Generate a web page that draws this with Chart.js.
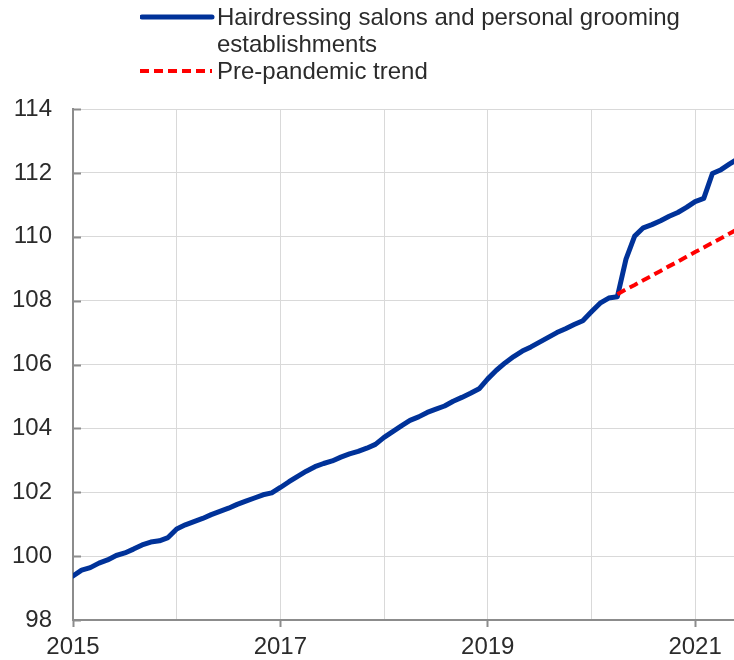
<!DOCTYPE html>
<html lang="en">
  <head>
    <meta charset="UTF-8" />
    <script src="https://cdn.jsdelivr.net/npm/chart.js@4.4.0/dist/chart.umd.min.js"></script>
    <title>Hairdressing prices</title>
    <style>
      body { margin: 0; background: #fff; }
      #wrap { position: relative; width: 734px; height: 660px; font-family: "Liberation Sans", Arial, sans-serif; color: #2b2b2b; }
      #myChart { position: absolute; left: 0; top: 0; }
      .legend { position: absolute; left: 140px; font-size: 24px; line-height: 27px; }
      .legend .txt { position: absolute; left: 77px; top: 0; white-space: nowrap; }
      .legend svg { position: absolute; left: 0; }
    </style>
  </head>
  <body>
  <div id="wrap">
    <canvas id="myChart" width="734" height="660"></canvas>
    <div class="legend" style="top:3px">
      <svg width="76" height="10" style="top:9px"><line x1="2" y1="5" x2="72" y2="5" stroke="#003299" stroke-width="5" stroke-linecap="round"/></svg>
      <div class="txt">Hairdressing salons and personal grooming<br>establishments</div>
    </div>
    <div class="legend" style="top:57px">
      <svg width="76" height="10" style="top:9px"><line x1="0" y1="5" x2="72" y2="5" stroke="#ff0000" stroke-width="4" stroke-dasharray="9 5"/></svg>
      <div class="txt">Pre-pandemic trend</div>
    </div>
  </div>

    <script>
    // monthly index, Jan 2015 .. Jun 2021
    const hairdressing = [
      99.38, 99.56, 99.64, 99.78, 99.88, 100.02, 100.10, 100.22, 100.35, 100.44, 100.48, 100.58,
      100.85, 100.98, 101.08, 101.18, 101.30, 101.40, 101.50, 101.62, 101.72, 101.82, 101.92, 101.98,
      102.15, 102.33, 102.50, 102.66, 102.80, 102.90, 102.98, 103.10, 103.20, 103.28, 103.38, 103.50,
      103.72, 103.90, 104.08, 104.25, 104.36, 104.50, 104.60, 104.70, 104.85, 104.97, 105.10, 105.24,
      105.55, 105.82, 106.05, 106.25, 106.42, 106.55, 106.70, 106.85, 107.00, 107.12, 107.25, 107.37,
      107.65, 107.92, 108.08, 108.12, 109.30, 110.02, 110.28, 110.38, 110.50, 110.64, 110.76, 110.92,
      111.10, 111.20, 111.98, 112.10, 112.28, 112.45
    ];
    // pre-pandemic trend, Apr 2020 .. Jun 2021
    const trendStart = '2020-04';
    const trend = [
      108.20, 108.35, 108.49, 108.64, 108.78, 108.93, 109.08, 109.22, 109.37,
      109.52, 109.66, 109.81, 109.95, 110.10, 110.25
    ];
    const yTicks = [98, 100, 102, 104, 106, 108, 110, 112, 114];
    const yearLabels = ['2015', '2017', '2019', '2021'];

    const months = [];
    for (let y = 2015; y <= 2021; y++) {
      for (let m = 1; m <= 12; m++) {
        months.push(y + '-' + String(m).padStart(2, '0'));
      }
    }
    months.length = hairdressing.length;

    const t0 = months.indexOf(trendStart);
    const axisGrey = '#8c8c8c';

    // short tick marks drawn inside the plot on the y axis
    const innerTicks = {
      id: 'innerTicks',
      beforeDatasetsDraw(chart) {
        const ctx = chart.ctx, y = chart.scales.y, left = chart.chartArea.left;
        ctx.save();
        ctx.strokeStyle = axisGrey;
        ctx.lineWidth = 2;
        yTicks.forEach(v => {
          const py = Math.round(y.getPixelForValue(v)) + 0.5;
          ctx.beginPath();
          ctx.moveTo(left, py);
          ctx.lineTo(left + 8, py);
          ctx.stroke();
        });
        ctx.restore();
      }
    };

    const ctx = document.getElementById('myChart').getContext('2d');
    new Chart(ctx, {
      type: 'line',
      data: {
        datasets: [{
          label: 'Hairdressing salons and personal grooming establishments',
          data: hairdressing.map((v, i) => ({ x: i, y: v })),
          borderColor: '#003299',
          borderWidth: 5,
          borderJoinStyle: 'round',
          borderCapStyle: 'round',
          pointRadius: 0,
          tension: 0,
          order: 2
        }, {
          label: 'Pre-pandemic trend',
          data: trend.map((v, i) => ({ x: t0 + i, y: v })),
          borderColor: '#ff0000',
          borderWidth: 4,
          borderDash: [9, 5],
          pointRadius: 0,
          tension: 0,
          order: 1
        }]
      },
      options: {
        responsive: false,
        animation: false,
        layout: { padding: { top: 109, left: 0, right: 0, bottom: 0 } },
        plugins: { legend: { display: false }, tooltip: { enabled: false } },
        scales: {
          x: {
            type: 'linear',
            min: 0,
            max: 76.5,
            afterFit(s) { s.height = 40; },
            border: { color: axisGrey, width: 2 },
            grid: {
              color: '#d9d9d9',
              lineWidth: 1,
              tickLength: 7,
              tickWidth: 2,
              tickColor: c => (c.tick && c.tick.value % 24 === 0) ? axisGrey : 'rgba(0,0,0,0)'
            },
            ticks: {
              stepSize: 12,
              includeBounds: false,
              autoSkip: false,
              maxRotation: 0,
              padding: 6,
              color: '#2b2b2b',
              font: { family: 'Liberation Sans', size: 24 },
              callback: v => (v % 24 === 0) ? yearLabels[v / 24] : ''
            }
          },
          y: {
            min: 98,
            max: 114,
            afterFit(s) { s.width = 73; },
            border: { color: axisGrey, width: 2 },
            grid: { color: '#d9d9d9', lineWidth: 1, drawTicks: false },
            ticks: {
              stepSize: 2,
              padding: 21,
              color: '#2b2b2b',
              font: { family: 'Liberation Sans', size: 24 }
            }
          }
        }
      },
      plugins: [innerTicks]
    });
    </script>
  </body>
</html>
